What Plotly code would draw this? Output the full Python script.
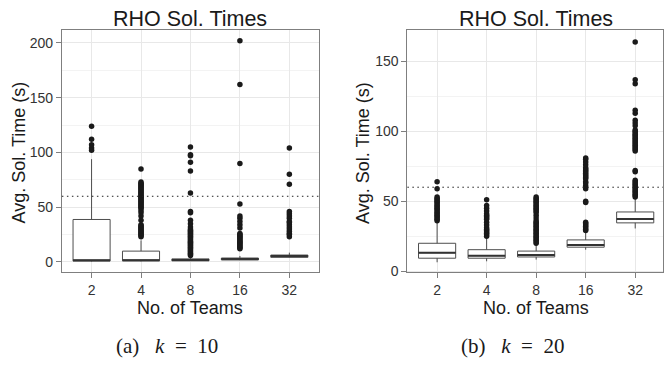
import plotly.graph_objects as go

# ---------------- data ----------------
teams = ["2", "4", "8", "16", "32"]

# k = 10
q1_k10 = [0.8, 1.0, 1.0, 1.8, 4.2]
med_k10 = [1.5, 1.5, 1.8, 2.8, 5.4]
q3_k10 = [38.8, 9.9, 2.8, 3.6, 6.3]
lo_k10 = [0.3, 0.5, 0.9, 1.8, 3.9]
hi_k10 = [93.9, 19.7, 5.0, 5.5, 8.5]
out_k10_2 = [102, 104, 107, 112, 124]
out_k10_4 = [23, 24, 25, 26, 27, 28, 29, 30, 31, 32, 33, 34, 38, 42, 45, 47, 49, 50,
             51, 52, 53, 54, 55, 56, 57, 58, 59, 60, 61, 62, 63, 64, 65, 66, 67, 68,
             69, 70, 71, 72, 73, 85]
out_k10_8 = [6, 7, 8, 9, 10, 11, 12, 13, 14, 15, 16, 17, 18, 19, 20, 21, 22, 23, 24,
             25, 26, 27, 28, 29, 30, 32, 35, 38, 45, 46, 63, 83, 91, 97, 98, 105]
out_k10_16 = [12, 13, 14, 15, 16, 17, 18, 19, 20, 21, 22, 23, 24, 25, 26, 31, 34, 37,
              40, 42, 53, 90, 162, 202]
out_k10_32 = [23, 25, 26, 28, 30, 32, 34, 36, 37, 40, 42, 44, 46, 71, 80, 104]

# k = 20
q1_k20 = [9.2, 9.2, 10.1, 17.1, 34.5]
med_k20 = [13.1, 11.0, 11.5, 18.6, 37.3]
q3_k20 = [19.9, 15.3, 14.3, 22.3, 42.3]
lo_k20 = [6.3, 7.0, 8.2, 15.3, 30.5]
hi_k20 = [34.5, 23.5, 18.8, 28.2, 51.6]
out_k20_2 = [36, 37, 38, 39, 40, 41, 42, 43, 44, 45, 46, 47, 48, 49, 50, 51, 52, 53, 59, 64]
out_k20_4 = [25, 26, 27, 28, 29, 30, 31, 33, 35, 37, 38, 39, 40, 41, 43, 45, 47, 51]
out_k20_8 = [20, 21, 22, 23, 24, 25, 26, 27, 28, 29, 30, 31, 32, 33, 34, 35, 36, 38, 40,
             42, 43, 44, 45, 46, 47, 48, 49, 50, 51, 52, 53]
out_k20_16 = [29, 30, 31, 32, 33, 34, 35, 49, 50, 59, 61, 63, 64, 66, 67, 68, 69, 70, 71,
              72, 73, 74, 76, 78, 80, 81]
out_k20_32 = [53, 54, 55, 56, 57, 58, 59, 60, 61, 62, 63, 64, 65, 71, 72, 86, 87, 88, 89,
              90, 91, 92, 93, 94, 95, 96, 97, 98, 99, 100, 101, 104, 106, 108, 113, 115,
              134, 137, 164]

threshold = 60
y_ticks_k10 = [0, 50, 100, 150, 200]
y_ticks_k20 = [0, 50, 100, 150]
title_text = "RHO Sol. Times"
x_title = "No. of Teams"
y_title = "Avg. Sol. Time (s)"
NB = "\u00a0"
caption_a = "(a)" + NB * 3 + "<i>k</i>" + NB * 2 + "=" + NB * 2 + "10"
caption_b = "(b)" + NB * 3 + "<i>k</i>" + NB * 2 + "=" + NB * 2 + "20"

# ---------------- style ----------------
W, H = 664, 367
BOX_W = 0.75
BOX_LINE = "#4d4d4d"
MED_LINE = "#333333"
PT = "#1a1a1a"
GRID = "#E8E8E8"
MINOR = "#F3F3F3"
BORDER = "#7F7F7F"
SANS = "Liberation Sans, Arial, sans-serif"
SERIF = "Liberation Serif, DejaVu Serif, serif"

pos = list(range(1, len(teams) + 1))

fig = go.Figure()


def add_panel(xa, ya, q1, med, q3, lo, hi, outs):
    fig.add_trace(go.Box(
        x=pos, q1=q1, median=med, q3=q3, lowerfence=lo, upperfence=hi,
        width=BOX_W, whiskerwidth=0, boxpoints=False, fillcolor="white",
        line=dict(color=BOX_LINE, width=1), xaxis=xa, yaxis=ya, showlegend=False,
        hoverinfo="skip"))
    mx, my = [], []
    for p, m in zip(pos, med):
        mx += [p - BOX_W / 2, p + BOX_W / 2, None]
        my += [m, m, None]
    fig.add_trace(go.Scatter(x=mx, y=my, mode="lines", line=dict(color=MED_LINE, width=2),
                             xaxis=xa, yaxis=ya, showlegend=False, hoverinfo="skip"))
    ox, oy = [], []
    for p, o in zip(pos, outs):
        ox += [p] * len(o)
        oy += o
    fig.add_trace(go.Scatter(x=ox, y=oy, mode="markers",
                             marker=dict(color=PT, size=5.5, line=dict(width=0)),
                             xaxis=xa, yaxis=ya, showlegend=False, hoverinfo="skip"))


add_panel("x", "y", q1_k10, med_k10, q3_k10, lo_k10, hi_k10,
          [out_k10_2, out_k10_4, out_k10_8, out_k10_16, out_k10_32])
add_panel("x2", "y2", q1_k20, med_k20, q3_k20, lo_k20, hi_k20,
          [out_k20_2, out_k20_4, out_k20_8, out_k20_16, out_k20_32])

common_x = dict(tickvals=pos, ticktext=teams, showgrid=True, gridcolor=GRID, gridwidth=1,
                zeroline=False, showline=True, mirror=True, linecolor=BORDER, linewidth=1,
                ticks="outside", ticklen=5, tickcolor=BORDER,
                tickfont=dict(family=SANS, size=14, color="#333333"))
common_y = dict(showgrid=True, gridcolor=GRID, gridwidth=1, zeroline=False, showline=True,
                mirror=True, linecolor=BORDER, linewidth=1, ticks="outside", ticklen=5,
                tickcolor=BORDER, tickfont=dict(family=SANS, size=14, color="#333333"),
                minor=dict(dtick=25, showgrid=True, gridcolor=MINOR, ticks=""))

x1d = [62 / W, 319.5 / W]
x2d = [408 / W, 1.0]
y_bot = 1 - 277 / H

fig.update_layout(
    width=W, height=H, margin=dict(l=0, r=0, t=0, b=0),
    paper_bgcolor="white", plot_bgcolor="white",
    xaxis=dict(domain=x1d, range=[0.4, 5.6], anchor="y", **common_x),
    yaxis=dict(domain=[y_bot, 1 - 30 / H], range=[-9.6, 212.3], tickvals=y_ticks_k10,
               anchor="x", **common_y),
    xaxis2=dict(domain=x2d, range=[0.4, 0.4 + (664 - 408) / 49.6], anchor="y2", **common_x),
    yaxis2=dict(domain=[y_bot, 1 - 30.8 / H], range=[-1, 172.3], tickvals=y_ticks_k20,
                anchor="x2", **common_y),
)

for xr, yr in (("x", "y"), ("x2", "y2")):
    fig.add_shape(type="line", xref=xr + " domain", yref=yr, x0=0, x1=1,
                  y0=threshold, y1=threshold,
                  line=dict(color="#222222", width=1, dash="1.5px,3.5px"))

ann = []
for cx, ytx in ((190.5, 19), (537, 364)):
    ann.append(dict(text=title_text, x=cx / W, y=1 - 19.5 / H, xref="paper", yref="paper",
                    showarrow=False, xanchor="center", yanchor="middle",
                    font=dict(family=SANS, size=21.5, color="#1a1a1a")))
    ann.append(dict(text=x_title, x=cx / W, y=1 - 313 / H, xref="paper", yref="paper",
                    showarrow=False, xanchor="center", yanchor="middle",
                    font=dict(family=SANS, size=18, color="#1a1a1a")))
    ann.append(dict(text=y_title, x=ytx / W, y=1 - 155 / H, xref="paper", yref="paper",
                    showarrow=False, xanchor="center", yanchor="middle", textangle=-90,
                    font=dict(family=SANS, size=18, color="#1a1a1a")))
ann.append(dict(text=caption_a, x=167 / W, y=1 - 352 / H, xref="paper", yref="paper",
                showarrow=False, xanchor="center", yanchor="middle",
                font=dict(family=SERIF, size=21, color="#1a1a1a")))
ann.append(dict(text=caption_b, x=513 / W, y=1 - 352 / H, xref="paper", yref="paper",
                showarrow=False, xanchor="center", yanchor="middle",
                font=dict(family=SERIF, size=21, color="#1a1a1a")))
fig.update_layout(annotations=ann)

fig.write_html("out.html")
